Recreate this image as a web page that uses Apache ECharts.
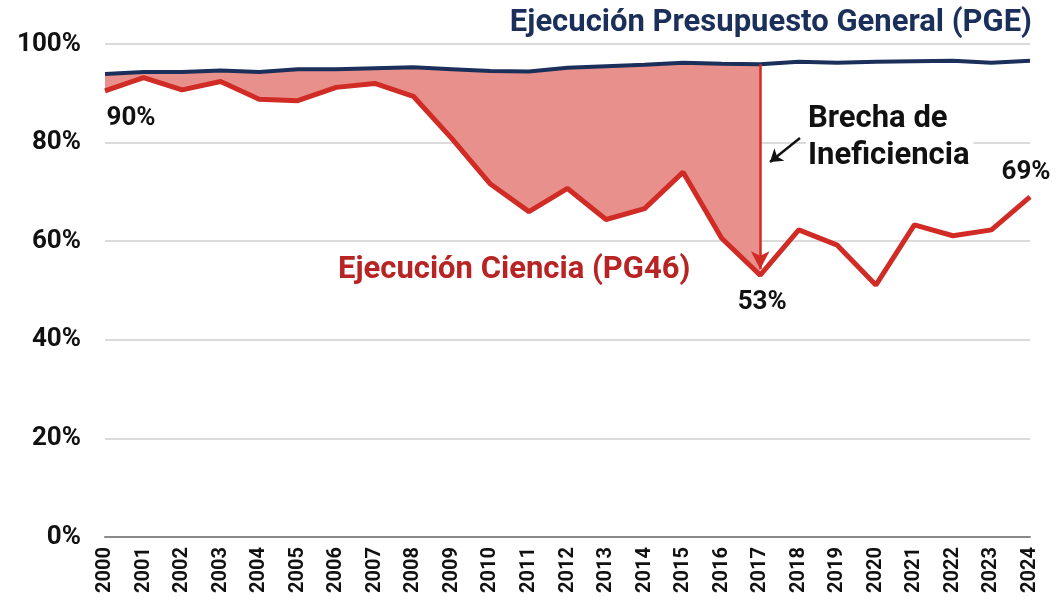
<!DOCTYPE html>
<html><head><meta charset="utf-8">
<script src="https://cdn.jsdelivr.net/npm/echarts@6/dist/echarts.min.js"></script>
<style>html,body{margin:0;padding:0;background:#fff}#c{width:1060px;height:610px}</style>
</head><body><div id="c"></div>
<script>
const years = ['2000','2001','2002','2003','2004','2005','2006','2007','2008','2009','2010','2011','2012','2013','2014','2015','2016','2017','2018','2019','2020','2021','2022','2023','2024'];
const pge = [93.9,94.3,94.3,94.6,94.3,94.9,94.9,95.1,95.3,94.9,94.5,94.4,95.2,95.5,95.8,96.2,96.0,95.9,96.4,96.2,96.4,96.5,96.6,96.2,96.6];
const pg46 = [90.5,93.2,90.7,92.4,88.8,88.5,91.2,92.0,89.4,80.8,71.6,66.0,70.7,64.4,66.6,74.0,60.6,53.1,62.3,59.2,51.1,63.3,61.1,62.3,69.0];
const yTicks = [0,20,40,60,80,100];
const gapEnd = '2017';
const callouts = [{year:'2000', text:'90%'},{year:'2017', text:'53%'},{year:'2024', text:'69%'}];

const gapIdx = years.indexOf(gapEnd);
const base = pg46.map((v,i)=> i<=gapIdx ? v : null);
const diff = pge.map((v,i)=> i<=gapIdx ? +(v-pg46[i]).toFixed(2) : null);
const FF = 'Roboto, "Liberation Sans", Arial, sans-serif';
const RED = '#d12b25';
const NAVY = '#1b2f5b';
const offsets = {'2000':[26,28],'2017':[2,27],'2024':[-4,-24]};

const chart = echarts.init(document.getElementById('c'), null, {renderer:'canvas'});
chart.setOption({
  animation:false,
  grid:{left:105,right:30,top:44,bottom:73,containLabel:false},
  xAxis:{type:'category',data:years,boundaryGap:false,
    axisLine:{show:true,lineStyle:{color:'#8a8a8a',width:2}},
    axisTick:{show:false},
    axisLabel:{rotate:90,color:'#111',fontWeight:'bold',fontSize:20,fontFamily:FF,margin:10,interval:0},
    splitLine:{show:false}},
  yAxis:{type:'value',min:yTicks[0],max:yTicks[yTicks.length-1],interval:20,
    axisLine:{show:false},axisTick:{show:false},
    axisLabel:{formatter:'{value}%',color:'#111',fontWeight:'bold',fontSize:26,fontFamily:FF,margin:24},
    splitLine:{lineStyle:{color:'#cfcfcf',width:1.5}}},
  series:[
    {type:'line',data:base,stack:'gap',symbol:'none',lineStyle:{opacity:0},silent:true,z:1},
    {type:'line',data:diff,stack:'gap',symbol:'none',lineStyle:{opacity:0},areaStyle:{color:'#e8908b',opacity:1},silent:true,z:1},
    {type:'line',name:'PGE',data:pge,symbol:'none',lineStyle:{color:NAVY,width:4},z:3},
    {type:'line',name:'PG46',data:pg46,symbol:'none',lineStyle:{color:RED,width:5},z:4,
      markLine:{silent:true,symbol:['none','arrow'],symbolSize:[14,18],
        label:{show:false},
        data:[
          [{coord:[gapEnd,pge[gapIdx]],lineStyle:{color:RED,width:2.5,type:'solid'}},{coord:[gapEnd,pg46[gapIdx]+1.2]}],
          [{x:800,y:138,lineStyle:{color:'#111',width:2.5,type:'solid'},symbol:'none'},{x:770,y:162,symbol:'arrow',symbolSize:12}]
        ]},
      markPoint:{symbol:'circle',symbolSize:0,
        label:{show:true,color:'#111',fontWeight:'bold',fontSize:26,fontFamily:FF},
        data:callouts.map(c=>({coord:[c.year,pg46[years.indexOf(c.year)]],value:c.text,
          label:{formatter:c.text,offset:offsets[c.year]}}))}
    }
  ],
  graphic:[
    {type:'text',right:28,top:8,style:{text:'Ejecución Presupuesto General (PGE)',fill:NAVY,font:'bold 31px '+FF}},
    {type:'text',left:338,top:255,style:{text:'Ejecución Ciencia (PG46)',fill:'#b82323',font:'bold 31px '+FF}},
    {type:'text',left:806,top:101,z:10,style:{text:'Brecha de\nIneficiencia',fill:'#111',font:'bold 31px '+FF,lineHeight:37,backgroundColor:'#fff',padding:[0,4,0,2]}}
  ]
});
</script></body></html>
